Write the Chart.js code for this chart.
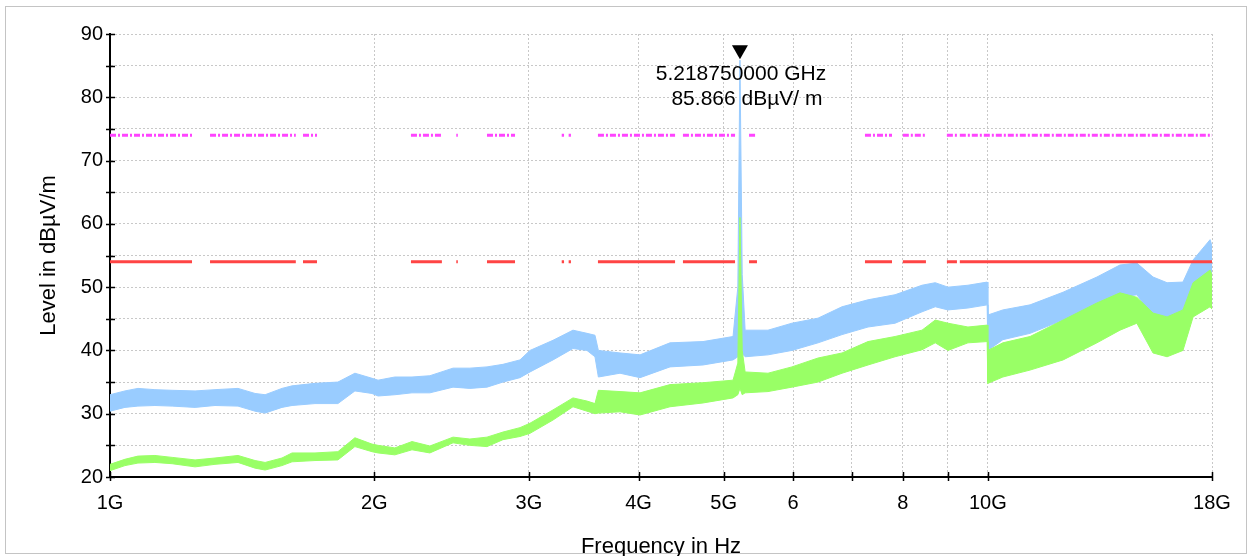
<!DOCTYPE html>
<html lang="en">
  <head>
    <meta charset="UTF-8" />
    <meta name="viewport" content="width=device-width, initial-scale=1.0" />
    <script src="https://cdn.jsdelivr.net/npm/chart.js@4.4.0/dist/chart.umd.min.js"></script>
    <title>Level in dBµV/m</title>
    <style>
      body {
        margin: 0;
        padding: 0;
        background: #fff;
      }
      canvas {
        display: block;
      }
    </style>
  </head>
  <body>
    <canvas id="chart" width="1249" height="556"></canvas>
    <script>
      // frequency in GHz, levels in dBµV/m (band edges)
      const freq = [1.0, 1.04, 1.076, 1.125, 1.177, 1.25, 1.317, 1.399, 1.463, 1.502, 1.57, 1.612, 1.712, 1.818, 1.901, 1.988, 2.02, 2.111, 2.208, 2.314, 2.459, 2.57, 2.688, 2.803, 2.931, 3.009, 3.196, 3.368, 3.494, 3.568, 3.6, 3.81, 4.016, 4.344, 4.737, 5.125, 5.19, 5.21875, 5.25, 5.29, 5.617, 5.981, 6.405, 6.821, 7.302, 7.839, 8.413, 8.71, 9.007, 9.49, 9.98, 10.0, 10.4, 11.17, 12.18, 13.31, 14.14, 14.78, 15.42, 16.0, 16.68, 17.13, 17.91, 18.0]
      const peakHi = [33.0, 33.6, 34.0, 33.8, 33.7, 33.6, 33.8, 34.0, 33.2, 33.0, 34.0, 34.4, 34.8, 35.0, 36.4, 35.6, 35.3, 35.8, 35.8, 36.0, 37.2, 37.2, 37.4, 37.8, 38.5, 40.0, 41.6, 43.2, 42.7, 42.4, 40.0, 39.6, 39.3, 41.2, 41.4, 42.2, 50.0, 85.866, 52.0, 43.2, 43.2, 44.3, 45.1, 46.9, 48.0, 48.8, 50.3, 50.7, 50.0, 50.3, 50.8, 45.6, 46.4, 47.2, 49.2, 51.6, 53.5, 53.8, 51.6, 50.7, 50.8, 54.3, 57.5, 56.5]
      const peakLo = [30.4, 31.0, 31.2, 31.3, 31.2, 31.0, 31.3, 31.2, 30.4, 30.1, 31.0, 31.3, 31.6, 31.6, 33.6, 33.2, 32.8, 33.0, 33.3, 33.3, 34.2, 34.0, 34.2, 35.0, 35.7, 36.6, 38.5, 40.3, 40.0, 39.0, 35.8, 36.4, 35.7, 37.4, 37.7, 38.5, 39.0, 45.0, 39.5, 39.0, 39.3, 40.0, 41.2, 42.5, 43.7, 44.3, 46.1, 46.9, 46.4, 46.7, 47.2, 40.0, 41.7, 42.7, 44.8, 46.4, 48.4, 48.8, 45.3, 44.8, 45.3, 48.4, 51.1, 50.5]
      const avgHi = [22.0, 22.8, 23.3, 23.4, 23.1, 22.7, 23.0, 23.4, 22.6, 22.3, 23.0, 23.8, 23.8, 24.0, 26.2, 25.2, 25.0, 24.6, 25.6, 24.9, 26.3, 26.0, 26.3, 27.1, 27.8, 28.5, 30.6, 32.5, 32.0, 31.6, 33.7, 33.5, 33.3, 34.6, 34.9, 35.3, 38.0, 61.0, 40.0, 36.6, 36.4, 37.4, 38.8, 39.6, 41.4, 42.2, 43.2, 44.8, 44.3, 43.7, 44.0, 40.0, 41.2, 42.2, 44.8, 47.5, 49.1, 48.4, 45.9, 45.3, 46.4, 50.7, 52.7, 52.0]
      const avgLo = [21.0, 21.8, 22.2, 22.3, 22.1, 21.6, 22.0, 22.3, 21.4, 21.1, 21.8, 22.4, 22.6, 22.7, 24.8, 24.0, 23.8, 23.5, 24.3, 23.8, 25.4, 25.0, 24.8, 25.9, 26.4, 26.9, 29.0, 31.1, 30.4, 30.0, 30.1, 30.3, 29.8, 31.1, 31.7, 32.5, 33.0, 34.0, 33.0, 33.3, 33.5, 34.2, 35.0, 36.4, 37.7, 39.0, 40.1, 41.2, 40.0, 41.2, 41.4, 34.8, 35.8, 36.9, 38.5, 41.2, 43.2, 44.3, 39.6, 39.0, 40.0, 45.3, 46.9, 46.5]

      // limit lines, drawn only on these frequency spans
      const limitStart = [1.0, 1.3, 1.659, 2.202, 2.48, 2.688, 3.27, 3.33, 3.596, 4.494, 5.345, 7.244, 8.0, 8.98, 9.29]
      const limitEnd = [1.24, 1.628, 1.721, 2.388, 2.49, 2.893, 3.29, 3.35, 4.402, 5.152, 5.457, 7.776, 8.5, 9.22, 18.0]
      const peakLimit = 74
      const avgLimit = 54

      const xTickValues = [1, 2, 3, 4, 5, 6, 7, 8, 9, 10, 18]
      const xTickLabels = ['1G', '2G', '3G', '4G', '5G', '6', '', '8', '', '10G', '18G']

      const markerFreq = 5.21875
      const markerLevel = 85.866
      const markerText = ['5.218750000 GHz', '85.866 dBµV/ m']

      const BLUE = '#99ccff'
      const GREEN = '#99ff66'
      const FONT = '"Liberation Sans", Arial, sans-serif'

      const toPoints = (ys) => freq.map((f, i) => ({ x: f, y: ys[i] }))
      const limitPoints = (level) => {
        const pts = []
        limitStart.forEach((s, i) => {
          pts.push({ x: s, y: level }, { x: limitEnd[i], y: level }, { x: limitEnd[i], y: null })
        })
        return pts
      }

      const band = (ys, color, fill) => ({
        data: toPoints(ys),
        borderColor: color,
        backgroundColor: color,
        borderWidth: 1,
        pointRadius: 0,
        tension: 0,
        fill: fill,
      })

      const decor = {
        id: 'decor',
        beforeDraw(chart) {
          const ctx = chart.ctx
          ctx.save()
          ctx.fillStyle = '#fff'
          ctx.fillRect(0, 0, chart.width, chart.height)
          ctx.strokeStyle = '#c4c4c4'
          ctx.lineWidth = 1
          ctx.strokeRect(5.5, 6.5, 1241, 547)
          ctx.restore()
        },
        afterDraw(chart) {
          const ctx = chart.ctx
          const xs = chart.scales.x
          const ys = chart.scales.y
          const area = chart.chartArea
          ctx.save()
          ctx.strokeStyle = '#000'
          ctx.lineWidth = 1.5
          ctx.beginPath()
          for (let v = 20; v <= 90; v += 5) {
            const py = Math.round(ys.getPixelForValue(v)) + 0.5
            ctx.moveTo(area.left - 4, py)
            ctx.lineTo(area.left + 5, py)
          }
          xTickValues.forEach((v) => {
            const px = Math.round(xs.getPixelForValue(v)) + 0.5
            ctx.moveTo(px, area.bottom - 5)
            ctx.lineTo(px, area.bottom + 4)
          })
          ctx.stroke()

          // marker
          const mx = xs.getPixelForValue(markerFreq)
          const my = ys.getPixelForValue(markerLevel)
          ctx.fillStyle = '#000'
          ctx.beginPath()
          ctx.moveTo(mx, my - 1)
          ctx.lineTo(mx - 8, my - 15)
          ctx.lineTo(mx + 8, my - 15)
          ctx.closePath()
          ctx.fill()
          ctx.font = '21px ' + FONT
          ctx.textBaseline = 'middle'
          ctx.textAlign = 'center'
          ctx.fillText(markerText[0], mx + 1, my + 14)
          ctx.fillText(markerText[1], mx + 7, my + 39)
          ctx.restore()
        },
      }

      Chart.defaults.font.family = FONT
      Chart.defaults.font.size = 20
      Chart.defaults.color = '#000'

      new Chart(document.getElementById('chart'), {
        type: 'line',
        data: {
          datasets: [
            {
              data: limitPoints(peakLimit),
              borderColor: '#ff44ff',
              borderWidth: 3,
              borderDash: [6, 2, 2, 2],
              pointRadius: 0,
              fill: false,
            },
            {
              data: limitPoints(avgLimit),
              borderColor: '#ff4444',
              borderWidth: 3,
              pointRadius: 0,
              fill: false,
            },
            band(avgHi, GREEN, '+1'),
            band(avgLo, GREEN, false),
            band(peakHi, BLUE, '+1'),
            band(peakLo, BLUE, false),
          ],
        },
        options: {
          responsive: false,
          animation: false,
          layout: {
            padding: { left: 0, top: 34, right: 37, bottom: 0 },
          },
          plugins: {
            legend: { display: false },
            tooltip: { enabled: false },
          },
          scales: {
            x: {
              type: 'logarithmic',
              min: 1,
              max: 18,
              afterBuildTicks: (scale) => {
                scale.ticks = xTickValues.map((v) => ({ value: v }))
              },
              afterFit: (scale) => {
                scale.height = 79
              },
              ticks: {
                autoSkip: false,
                maxRotation: 0,
                padding: 14,
                callback: (value, index) => xTickLabels[index],
              },
              grid: {
                color: '#c8c8c8',
                drawTicks: false,
              },
              border: {
                color: '#000',
                width: 2,
                dash: [2, 2],
              },
              title: {
                display: true,
                text: 'Frequency in Hz',
                font: { size: 22 },
                padding: { top: 0, bottom: -4 },
              },
            },
            y: {
              min: 20,
              max: 90,
              afterFit: (scale) => {
                scale.width = 110
              },
              ticks: {
                stepSize: 5,
                padding: 7,
                callback: (value) => (value % 10 === 0 ? value : ''),
              },
              grid: {
                color: '#c8c8c8',
                drawTicks: false,
              },
              border: {
                color: '#000',
                width: 2,
                dash: [2, 2],
              },
              title: {
                display: true,
                text: 'Level in dBµV/m',
                font: { size: 22 },
                padding: { top: 36, bottom: 0 },
              },
            },
          },
        },
        plugins: [decor],
      })
    </script>
  </body>
</html>
